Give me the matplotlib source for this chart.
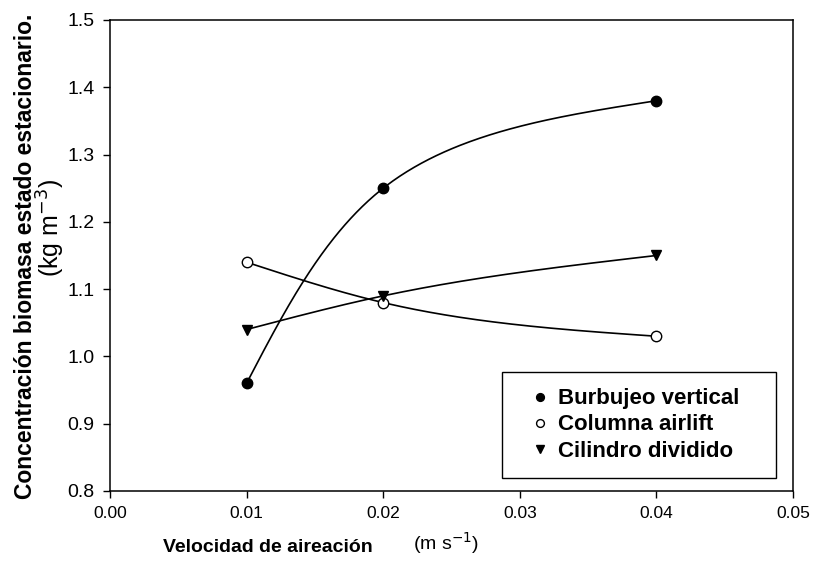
import matplotlib
matplotlib.use("Agg")
import matplotlib.pyplot as plt
from matplotlib.patches import Rectangle
import numpy as np

plt.rcParams['font.family'] = ['Liberation Sans', 'DejaVu Sans']

# data
velocidad = [0.01, 0.02, 0.04]
burbujeo = [0.96, 1.25, 1.38]
columna = [1.14, 1.08, 1.03]
cilindro = [1.04, 1.09, 1.15]
x_ticks = [0.00, 0.01, 0.02, 0.03, 0.04, 0.05]
y_ticks = [0.8, 0.9, 1.0, 1.1, 1.2, 1.3, 1.4, 1.5]


def natural_spline(t, v, ts):
    # plain natural cubic spline of v over t
    n = len(t)
    h = np.diff(t)
    A = np.zeros((n, n))
    r = np.zeros(n)
    A[0, 0] = A[-1, -1] = 1
    for i in range(1, n - 1):
        A[i, i - 1] = h[i - 1]
        A[i, i] = 2 * (h[i - 1] + h[i])
        A[i, i + 1] = h[i]
        r[i] = 6 * ((v[i + 1] - v[i]) / h[i] - (v[i] - v[i - 1]) / h[i - 1])
    M = np.linalg.solve(A, r)
    out = np.empty_like(ts)
    for j, tv in enumerate(ts):
        k = min(max(np.searchsorted(t, tv, side='right') - 1, 0), n - 2)
        a = t[k + 1] - tv
        b = tv - t[k]
        out[j] = (M[k] * a**3 + M[k + 1] * b**3) / (6 * h[k]) \
            + (v[k] / h[k] - M[k] * h[k] / 6) * a \
            + (v[k + 1] / h[k] - M[k + 1] * h[k] / 6) * b
    return out


def smooth_curve(ax, xv, yv, npts=300):
    # parametric spline in screen space, chord length parameter
    pts = ax.transData.transform(np.column_stack([xv, yv]))
    seg = np.hypot(*np.diff(pts, axis=0).T)
    t = np.concatenate([[0], np.cumsum(seg)])
    ts = np.linspace(0, t[-1], npts)
    px = natural_spline(t, pts[:, 0], ts)
    py = natural_spline(t, pts[:, 1], ts)
    back = ax.transData.inverted().transform(np.column_stack([px, py]))
    return back[:, 0], back[:, 1]


fig = plt.figure(figsize=(8.17, 5.63), dpi=100)
ax = fig.add_axes([0.1346, 0.1279, 0.836, 0.8366])
ax.set_xlim(0, 0.05)
ax.set_ylim(0.8, 1.5)

for vals in (burbujeo, columna, cilindro):
    cx, cy = smooth_curve(ax, velocidad, vals)
    ax.plot(cx, cy, color='black', lw=1.2, zorder=2)

ax.plot(velocidad, burbujeo, 'o', ms=7.5, mfc='black', mec='black', ls='none',
        label='Burbujeo vertical', zorder=3)
ax.plot(velocidad, columna, 'o', ms=7.5, mfc='white', mec='black', mew=1.0, ls='none',
        label='Columna airlift', zorder=3)
ax.plot(velocidad, cilindro, 'v', ms=7.5, mfc='black', mec='black', ls='none',
        label='Cilindro dividido', zorder=3)

ax.set_xticks(x_ticks)
ax.set_xticklabels(['%.2f' % v for v in x_ticks], fontsize=12.5)
ax.set_yticks(y_ticks)
ax.set_yticklabels(['%.1f' % v for v in y_ticks], fontsize=14)
ax.tick_params(direction='out', length=5, width=1, pad=6)
for s in ax.spines.values():
    s.set_linewidth(1.1)

# legend without its own frame, box drawn separately (wider on the right like the original)
leg = ax.legend(loc='center left', bbox_to_anchor=(527 / 817, 1 - 425 / 563),
                bbox_transform=fig.transFigure, fontsize=16, frameon=False,
                handletextpad=0.2, handlelength=1.2, borderpad=0, labelspacing=0.23,
                markerscale=0.75, borderaxespad=0)
for t in leg.get_texts():
    t.set_fontweight('bold')
fig.patches.append(Rectangle((502 / 817, 1 - 478 / 563), 274 / 817, 106 / 563,
                             transform=fig.transFigure, fill=False, ec='black',
                             lw=1.0, zorder=5))

fig.text(0.456, 0.012, 'Velocidad de aireación', ha='right', va='bottom',
         fontsize=14, fontweight='bold')
fig.text(0.505, 0.012, r'(m s$^{-1}$)', ha='left', va='bottom', fontsize=14)
fig.text(0.031, 0.545, 'Concentración biomasa estado estacionario.', rotation=90,
         ha='center', va='center', fontsize=16.5, fontweight='bold')
fig.text(0.062, 0.595, r'(kg m$^{-3}$)', rotation=90, ha='center', va='center',
         fontsize=18)

fig.savefig('out.png', dpi=100)
